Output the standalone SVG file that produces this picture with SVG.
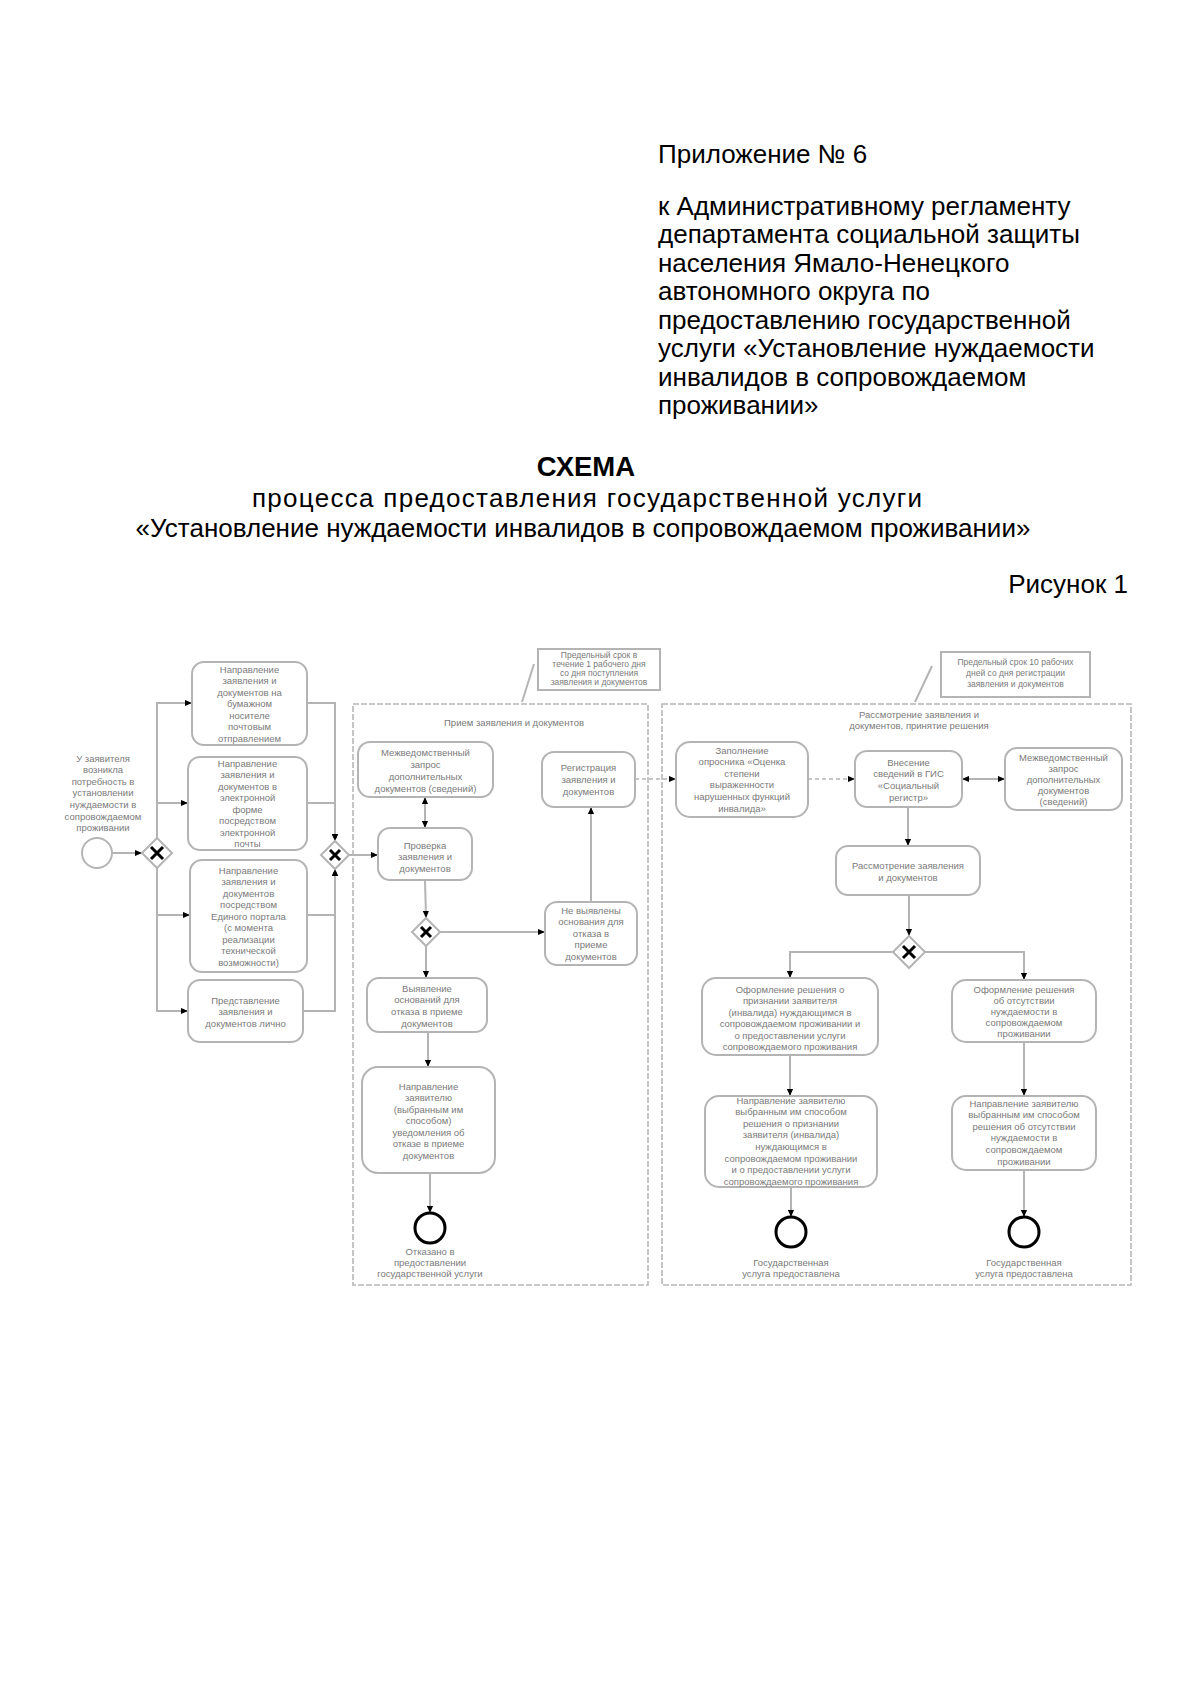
<svg xmlns="http://www.w3.org/2000/svg" width="1200" height="1696" viewBox="0 0 1200 1696">
<style>
.hd{font-family:"Liberation Sans",Arial,sans-serif;font-size:26px;fill:#000}
.t{font-family:"Liberation Sans",Arial,sans-serif;font-size:9.5px;fill:#7a7a7a;text-anchor:middle}
.ts{font-family:"Liberation Sans",Arial,sans-serif;font-size:8.5px;fill:#7a7a7a;text-anchor:middle}
.box{fill:#fff;stroke:#b4b4b4;stroke-width:2}
.ann{fill:#fff;stroke:#b4b4b4;stroke-width:2}
.pool{fill:none;stroke:#b8b8b8;stroke-width:1.6;stroke-dasharray:6 2}
.ln{fill:none;stroke:#b4b4b4;stroke-width:2}
.msg{fill:none;stroke:#b4b4b4;stroke-width:1.5;stroke-dasharray:4 3}
.gw{fill:#fff;stroke:#b4b4b4;stroke-width:2}
.x{stroke:#000;stroke-width:3;fill:none}
.start{fill:#fff;stroke:#b4b4b4;stroke-width:2}
.end{fill:#fff;stroke:#000;stroke-width:3}
</style>
<defs>
<marker id="ar" viewBox="0 0 8 8" refX="8" refY="4" markerWidth="7" markerHeight="7" markerUnits="userSpaceOnUse" orient="auto-start-reverse"><path d="M0,0.5 L8,4 L0,7.5 z" fill="#000"/></marker>
</defs>
<rect width="1200" height="1696" fill="#fff"/>

<g id="header">
<text class="hd" x="658" y="163">Приложение № 6</text>
<text class="hd" x="658" y="215">к Административному регламенту</text>
<text class="hd" x="658" y="243">департамента социальной защиты</text>
<text class="hd" x="658" y="272">населения Ямало-Ненецкого</text>
<text class="hd" x="658" y="300">автономного округа по</text>
<text class="hd" x="658" y="329">предоставлению государственной</text>
<text class="hd" x="658" y="357">услуги «Установление нуждаемости</text>
<text class="hd" x="658" y="386">инвалидов в сопровождаемом</text>
<text class="hd" x="658" y="414">проживании»</text>
<text class="hd" x="586" y="476" text-anchor="middle" font-weight="bold" style="font-size:27.5px">СХЕМА</text>
<text class="hd" x="252" y="507" textLength="670" lengthAdjust="spacing">процесса предоставления государственной услуги</text>
<text class="hd" x="583" y="537" text-anchor="middle">«Установление нуждаемости инвалидов в сопровождаемом проживании»</text>
<text class="hd" x="1128" y="593" text-anchor="end">Рисунок 1</text>
</g>

<g id="pools">
<rect class="pool" x="353" y="704" width="295" height="581"/>
<text class="t" x="514" y="725.5">Прием заявления и документов</text>
<rect class="pool" x="662" y="704" width="469" height="581"/>
<text class="t" x="919" y="717.5">Рассмотрение заявления и</text>
<text class="t" x="919" y="729">документов, принятие решения</text>
</g>

<g id="connectors">
<line class="ln" x1="113" y1="853" x2="142" y2="853" marker-end="url(#ar)"/>
<path class="ln" d="M157,838 V703 H192" marker-end="url(#ar)"/>
<path class="ln" d="M157,838 V803 H188" marker-end="url(#ar)"/>
<path class="ln" d="M157,868 V915 H190" marker-end="url(#ar)"/>
<path class="ln" d="M157,868 V1011 H188" marker-end="url(#ar)"/>
<path class="ln" d="M307,703 H335 V841" marker-end="url(#ar)"/>
<path class="ln" d="M307,803 H335 V841" marker-end="url(#ar)"/>
<path class="ln" d="M307,915 H335 V869" marker-end="url(#ar)"/>
<path class="ln" d="M303,1011 H335 V869" marker-end="url(#ar)"/>
<line class="ln" x1="349" y1="855" x2="378" y2="855" marker-end="url(#ar)"/>
<line class="ln" x1="425" y1="797" x2="425" y2="828" marker-start="url(#ar)" marker-end="url(#ar)"/>
<line class="ln" x1="425" y1="880" x2="426" y2="918" marker-end="url(#ar)"/>
<line class="ln" x1="440" y1="932" x2="545" y2="932" marker-end="url(#ar)"/>
<line class="ln" x1="426" y1="946" x2="426" y2="978" marker-end="url(#ar)"/>
<line class="ln" x1="591" y1="902" x2="591" y2="807" marker-end="url(#ar)"/>
<line class="ln" x1="428" y1="1032" x2="428" y2="1067" marker-end="url(#ar)"/>
<line class="ln" x1="430" y1="1173" x2="430" y2="1213" marker-end="url(#ar)"/>
<line class="msg" x1="635" y1="779" x2="676" y2="779" marker-end="url(#ar)"/>
<line class="msg" x1="808" y1="779" x2="855" y2="779" marker-end="url(#ar)"/>
<line class="ln" x1="962" y1="779" x2="1005" y2="779" marker-start="url(#ar)" marker-end="url(#ar)"/>
<line class="ln" x1="908" y1="807" x2="908" y2="846" marker-end="url(#ar)"/>
<line class="ln" x1="909" y1="895" x2="909" y2="936" marker-end="url(#ar)"/>
<path class="ln" d="M893,952 H790 V978" marker-end="url(#ar)"/>
<path class="ln" d="M925,952 H1024 V980" marker-end="url(#ar)"/>
<line class="ln" x1="790" y1="1055" x2="790" y2="1096" marker-end="url(#ar)"/>
<line class="ln" x1="1024" y1="1042" x2="1024" y2="1096" marker-end="url(#ar)"/>
<line class="ln" x1="791" y1="1187" x2="791" y2="1217" marker-end="url(#ar)"/>
<line class="ln" x1="1024" y1="1170" x2="1024" y2="1217" marker-end="url(#ar)"/>
<line class="ln" x1="522" y1="702" x2="534" y2="664"/>
<line class="ln" x1="915" y1="702" x2="932" y2="666"/>
</g>

<g id="start">
<circle class="start" cx="97" cy="853" r="15"/>
<text class="t" x="103" y="761.5">У заявителя<tspan x="103" dy="11.6">возникла</tspan><tspan x="103" dy="11.6">потребность в</tspan><tspan x="103" dy="11.6">установлении</tspan><tspan x="103" dy="11.6">нуждаемости в</tspan><tspan x="103" dy="11.6">сопровождаемом</tspan><tspan x="103" dy="11.6">проживании</tspan></text>
</g>

<g id="gw1">
<path class="gw" d="M157,838 L172,853 L157,868 L142,853 z"/>
<path class="x" d="M151,847 L163,859 M163,847 L151,859"/>
</g>

<g id="n-post">
<rect class="box" x="192" y="662" width="115" height="83" rx="12"/>
<text class="t" x="249.5" y="672.5">Направление<tspan x="249.5" dy="11.5">заявления и</tspan><tspan x="249.5" dy="11.5">документов на</tspan><tspan x="249.5" dy="11.5">бумажном</tspan><tspan x="249.5" dy="11.5">носителе</tspan><tspan x="249.5" dy="11.5">почтовым</tspan><tspan x="249.5" dy="11.5">отправлением</tspan></text>
</g>

<g id="n-email">
<rect class="box" x="188" y="757" width="119" height="93" rx="12"/>
<text class="t" x="247.5" y="766.5">Направление<tspan x="247.5" dy="11.5">заявления и</tspan><tspan x="247.5" dy="11.5">документов в</tspan><tspan x="247.5" dy="11.5">электронной</tspan><tspan x="247.5" dy="11.5">форме</tspan><tspan x="247.5" dy="11.5">посредством</tspan><tspan x="247.5" dy="11.5">электронной</tspan><tspan x="247.5" dy="11.5">почты</tspan></text>
</g>

<g id="n-portal">
<rect class="box" x="190" y="860" width="117" height="112" rx="12"/>
<text class="t" x="248.5" y="873.5">Направление<tspan x="248.5" dy="11.5">заявления и</tspan><tspan x="248.5" dy="11.5">документов</tspan><tspan x="248.5" dy="11.5">посредством</tspan><tspan x="248.5" dy="11.5">Единого портала</tspan><tspan x="248.5" dy="11.5">(с момента</tspan><tspan x="248.5" dy="11.5">реализации</tspan><tspan x="248.5" dy="11.5">технической</tspan><tspan x="248.5" dy="11.5">возможности)</tspan></text>
</g>

<g id="n-personal">
<rect class="box" x="188" y="980" width="115" height="62" rx="12"/>
<text class="t" x="245.5" y="1003.5">Представление<tspan x="245.5" dy="11.8">заявления и</tspan><tspan x="245.5" dy="11.8">документов лично</tspan></text>
</g>

<g id="gw2">
<path class="gw" d="M335,841 L349,855 L335,869 L321,855 z"/>
<path class="x" d="M330,850 L340,860 M340,850 L330,860"/>
</g>

<g id="annot1">
<rect class="ann" x="538" y="649" width="122" height="41"/>
<text class="ts" x="599" y="658">Предельный срок в<tspan x="599" dy="9">течение 1 рабочего дня</tspan><tspan x="599" dy="9">со дня поступления</tspan><tspan x="599" dy="9">заявления и документов</tspan></text>
</g>

<g id="n-mvz1">
<rect class="box" x="358" y="742" width="135" height="55" rx="12"/>
<text class="t" x="425.5" y="755.5">Межведомственный<tspan x="425.5" dy="12">запрос</tspan><tspan x="425.5" dy="12">дополнительных</tspan><tspan x="425.5" dy="12">документов (сведений)</tspan></text>
</g>

<g id="n-check">
<rect class="box" x="378" y="828" width="94" height="52" rx="12"/>
<text class="t" x="425" y="848.5">Проверка<tspan x="425" dy="11.5">заявления и</tspan><tspan x="425" dy="11.5">документов</tspan></text>
</g>

<g id="n-reg">
<rect class="box" x="542" y="752" width="93" height="55" rx="12"/>
<text class="t" x="588.5" y="770.5">Регистрация<tspan x="588.5" dy="12">заявления и</tspan><tspan x="588.5" dy="12">документов</tspan></text>
</g>

<g id="gw3">
<path class="gw" d="M426,918 L440,932 L426,946 L412,932 z"/>
<path class="x" d="M421,927 L431,937 M431,927 L421,937"/>
</g>

<g id="n-noreasons">
<rect class="box" x="545" y="902" width="92" height="63" rx="12"/>
<text class="t" x="591" y="913.5">Не выявлены<tspan x="591" dy="11.5">основания для</tspan><tspan x="591" dy="11.5">отказа в</tspan><tspan x="591" dy="11.5">приеме</tspan><tspan x="591" dy="11.5">документов</tspan></text>
</g>

<g id="n-reasons">
<rect class="box" x="367" y="978" width="120" height="54" rx="12"/>
<text class="t" x="427" y="991.5">Выявление<tspan x="427" dy="11.7">оснований для</tspan><tspan x="427" dy="11.7">отказа в приеме</tspan><tspan x="427" dy="11.7">документов</tspan></text>
</g>

<g id="n-notice">
<rect class="box" x="362" y="1067" width="133" height="106" rx="16"/>
<text class="t" x="428.5" y="1089.5">Направление<tspan x="428.5" dy="11.5">заявителю</tspan><tspan x="428.5" dy="11.5">(выбранным им</tspan><tspan x="428.5" dy="11.5">способом)</tspan><tspan x="428.5" dy="11.5">уведомления об</tspan><tspan x="428.5" dy="11.5">отказе в приеме</tspan><tspan x="428.5" dy="11.5">документов</tspan></text>
</g>

<g id="end1">
<circle class="end" cx="430" cy="1228" r="15"/>
<text class="t" x="430" y="1254.5">Отказано в<tspan x="430" dy="11">предоставлении</tspan><tspan x="430" dy="11">государственной услуги</tspan></text>
</g>

<g id="annot2">
<rect class="ann" x="941" y="652" width="149" height="45"/>
<text class="ts" x="1015.5" y="665">Предельный срок 10 рабочих<tspan x="1015.5" dy="11">дней со дня регистрации</tspan><tspan x="1015.5" dy="11">заявления и документов</tspan></text>
</g>

<g id="n-survey">
<rect class="box" x="676" y="742" width="132" height="75" rx="14"/>
<text class="t" x="742" y="753.5">Заполнение<tspan x="742" dy="11.6">опросника «Оценка</tspan><tspan x="742" dy="11.6">степени</tspan><tspan x="742" dy="11.6">выраженности</tspan><tspan x="742" dy="11.6">нарушенных функций</tspan><tspan x="742" dy="11.6">инвалида»</tspan></text>
</g>

<g id="n-gis">
<rect class="box" x="855" y="751" width="107" height="56" rx="12"/>
<text class="t" x="908.5" y="765.5">Внесение<tspan x="908.5" dy="11.7">сведений в ГИС</tspan><tspan x="908.5" dy="11.7">«Социальный</tspan><tspan x="908.5" dy="11.7">регистр»</tspan></text>
</g>

<g id="n-mvz2">
<rect class="box" x="1005" y="748" width="117" height="62" rx="12"/>
<text class="t" x="1063.5" y="760.5">Межведомственный<tspan x="1063.5" dy="11">запрос</tspan><tspan x="1063.5" dy="11">дополнительных</tspan><tspan x="1063.5" dy="11">документов</tspan><tspan x="1063.5" dy="11">(сведений)</tspan></text>
</g>

<g id="n-review">
<rect class="box" x="836" y="846" width="144" height="49" rx="12"/>
<text class="t" x="908" y="868.5">Рассмотрение заявления<tspan x="908" dy="12">и документов</tspan></text>
</g>

<g id="gw4">
<path class="gw" d="M909,936 L925,952 L909,968 L893,952 z"/>
<path class="x" d="M903,946 L915,958 M915,946 L903,958"/>
</g>

<g id="n-decyes">
<rect class="box" x="702" y="978" width="176" height="77" rx="14"/>
<text class="t" x="790" y="992.5">Оформление решения о<tspan x="790" dy="11.5">признании заявителя</tspan><tspan x="790" dy="11.5">(инвалида) нуждающимся в</tspan><tspan x="790" dy="11.5">сопровождаемом проживании и</tspan><tspan x="790" dy="11.5">о предоставлении услуги</tspan><tspan x="790" dy="11.5">сопровождаемого проживания</tspan></text>
</g>

<g id="n-decno">
<rect class="box" x="952" y="980" width="144" height="62" rx="14"/>
<text class="t" x="1024" y="992.5">Оформление решения<tspan x="1024" dy="11">об отсутствии</tspan><tspan x="1024" dy="11">нуждаемости в</tspan><tspan x="1024" dy="11">сопровождаемом</tspan><tspan x="1024" dy="11">проживании</tspan></text>
</g>

<g id="n-sendyes">
<rect class="box" x="705" y="1096" width="172" height="91" rx="14"/>
<text class="t" x="791" y="1103.5">Направление заявителю<tspan x="791" dy="11.6">выбранным им способом</tspan><tspan x="791" dy="11.6">решения о признании</tspan><tspan x="791" dy="11.6">заявителя (инвалида)</tspan><tspan x="791" dy="11.6">нуждающимся в</tspan><tspan x="791" dy="11.6">сопровождаемом проживании</tspan><tspan x="791" dy="11.6">и о предоставлении услуги</tspan><tspan x="791" dy="11.6">сопровождаемого проживания</tspan></text>
</g>

<g id="n-sendno">
<rect class="box" x="952" y="1096" width="144" height="74" rx="14"/>
<text class="t" x="1024" y="1106.5">Направление заявителю<tspan x="1024" dy="11.6">выбранным им способом</tspan><tspan x="1024" dy="11.6">решения об отсутствии</tspan><tspan x="1024" dy="11.6">нуждаемости в</tspan><tspan x="1024" dy="11.6">сопровождаемом</tspan><tspan x="1024" dy="11.6">проживании</tspan></text>
</g>

<g id="end2">
<circle class="end" cx="791" cy="1232" r="15"/>
<text class="t" x="791" y="1265.5">Государственная<tspan x="791" dy="11.5">услуга предоставлена</tspan></text>
</g>

<g id="end3">
<circle class="end" cx="1024" cy="1232" r="15"/>
<text class="t" x="1024" y="1265.5">Государственная<tspan x="1024" dy="11.5">услуга предоставлена</tspan></text>
</g>
</svg>
